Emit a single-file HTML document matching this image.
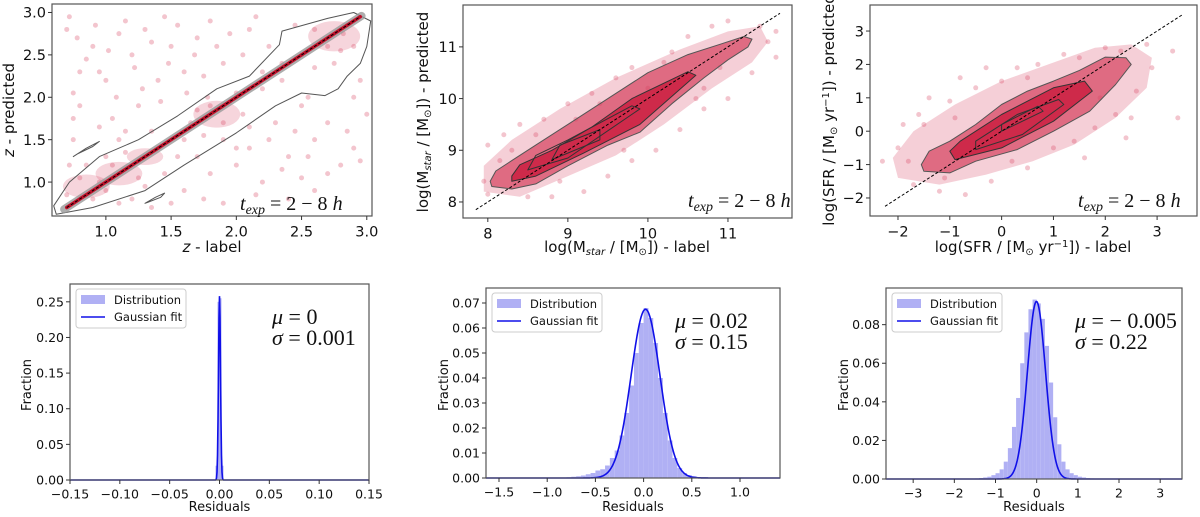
<!DOCTYPE html>
<html><head><meta charset="utf-8">
<style>
html,body{margin:0;padding:0;background:#fff;}
svg{display:block;font-family:"DejaVu Sans","Liberation Sans",sans-serif;}
</style></head>
<body>
<svg id="fig" width="1200" height="517" viewBox="0 0 1200 517" xmlns="http://www.w3.org/2000/svg"></svg>
<script>
// ---------- data ----------
const zTicks = [1.0, 1.5, 2.0, 2.5, 3.0];
const zOuter = [[0.62,0.62],[0.9,0.7],[1.3,0.9],[1.6,1.2],[2.0,1.58],[2.3,1.9],[2.5,2.05],[2.68,2.02],[2.78,2.1],[2.85,2.25],[2.95,2.4],[3.0,2.6],[3.03,2.9],[2.9,3.0],[2.7,2.93],[2.35,2.78],[2.33,2.62],[2.1,2.25],[1.85,2.1],[1.55,1.78],[1.25,1.5],[0.95,1.3],[0.72,1.0],[0.6,0.72]];
const zIsland1 = [[0.75,1.3],[0.85,1.4],[0.95,1.48],[0.9,1.42],[0.78,1.33]];
const zIsland2 = [[1.3,0.75],[1.38,0.82],[1.45,0.87],[1.42,0.82],[1.32,0.76]];
const zBlobs = [[0.85,0.95,0.18,0.14],[1.1,1.1,0.18,0.14],[1.85,1.8,0.18,0.16],[2.75,2.72,0.2,0.18],[1.3,1.3,0.14,0.1]];
const zPts = [[0.7,2.8],[0.75,2.05],[0.8,1.9],[0.9,2.6],[0.95,2.3],[1.05,1.75],[1.1,2.75],[1.2,2.5],[1.25,1.9],[1.3,2.8],[1.4,2.2],[1.5,2.6],[1.6,2.3],[1.7,2.7],[1.8,2.9],[1.9,2.4],[2.1,2.8],[2.2,2.3],[0.75,1.5],[0.85,1.2],[1.0,1.3],[1.1,0.75],[1.2,0.8],[1.5,0.75],[1.6,0.9],[1.7,1.3],[1.8,1.1],[1.9,1.5],[2.0,1.2],[2.1,1.4],[2.2,1.0],[2.3,1.7],[2.4,1.3],[2.5,1.9],[2.6,1.5],[2.7,1.7],[2.8,1.2],[2.85,1.6],[2.9,2.0],[2.4,0.8],[2.6,0.9],[2.95,1.25],[1.9,0.75],[0.7,0.85],[1.35,1.6],[0.95,1.0],[2.0,2.05],[2.5,2.5],[2.2,2.1],[1.6,1.5],[2.9,2.6],[2.65,2.65],[0.8,2.3],[1.45,2.95],[2.35,2.2],[1.15,1.6],[2.05,1.8],[2.55,2.0],
[0.72,2.95],[0.78,2.7],[0.85,2.45],[0.92,2.85],[1.0,2.2],[1.02,2.55],[1.08,2.0],[1.15,2.9],[1.22,2.35],[1.28,2.1],[1.35,2.65],[1.42,1.95],[1.48,2.4],[1.55,2.85],[1.62,2.05],[1.68,2.5],[1.75,2.25],[1.85,2.6],[1.95,2.75],[2.05,2.5],[2.15,2.95],[2.25,2.6],[2.45,2.85],[0.72,1.2],[0.8,1.05],[0.9,0.8],[1.0,0.9],[1.05,1.2],[1.15,1.35],[1.25,1.05],[1.3,0.95],[1.45,1.1],[1.55,1.3],[1.65,1.7],[1.75,1.55],[1.8,1.9],[1.95,1.95],[2.0,1.4],[2.1,1.65],[2.25,1.5],[2.35,1.15],[2.45,1.6],[2.55,1.3],[2.6,2.35],[2.7,1.1],[2.75,2.4],[2.8,2.55],[2.85,2.85],[2.9,1.4],[2.95,2.2],[3.0,1.8],[2.5,1.05],[2.15,0.85],[1.75,0.8],[1.35,0.7],[0.95,1.65],[0.75,1.75],[1.1,1.5],[2.35,2.4],[2.6,2.8],[2.7,2.6],[2.82,2.75],[2.9,2.9],[1.9,1.7],[1.78,2.0],[1.7,1.85]];
const mTicks = [8, 9, 10, 11];
const mWide = [[7.95,8.2],[8.4,8.1],[9.0,8.5],[9.6,8.9],[10.2,9.5],[10.8,10.2],[11.3,10.7],[11.5,11.1],[11.4,11.4],[11.0,11.3],[10.4,10.95],[9.6,10.4],[8.9,9.8],[8.3,9.2],[7.95,8.7]];
const mOuter = [[8.05,8.3],[8.3,8.25],[8.6,8.35],[9.0,8.7],[9.5,9.1],[9.9,9.35],[10.3,9.9],[10.7,10.4],[11.0,10.75],[11.25,11.0],[11.3,11.15],[11.2,11.2],[10.9,11.05],[10.5,10.85],[10.0,10.5],[9.5,10.0],[9.0,9.5],[8.6,9.1],[8.3,8.8],[8.1,8.6],[8.03,8.4]];
const mMid = [[8.3,8.4],[8.6,8.5],[9.2,8.95],[9.9,9.5],[10.6,10.45],[10.5,10.52],[9.8,10.0],[9.3,9.45],[8.8,9.0],[8.4,8.72],[8.3,8.5]];
const mInner = [[8.5,8.62],[9.0,8.85],[9.9,9.8],[9.8,9.86],[9.0,9.2],[8.6,8.9]];
const mCore = [[8.8,8.82],[9.4,9.2],[9.4,9.4],[8.9,9.1]];
const mPts = [[8.0,8.15],[7.95,8.4],[8.0,9.1],[8.2,9.3],[8.4,9.5],[8.7,9.6],[9.0,9.9],[9.3,10.1],[9.6,10.4],[9.8,10.6],[10.3,10.9],[10.5,11.2],[10.8,11.4],[11.0,11.5],[11.4,11.4],[11.6,11.3],[11.6,10.8],[11.3,10.5],[11.0,10.0],[10.7,9.8],[10.4,9.4],[10.1,9.0],[9.8,8.8],[9.5,8.5],[9.2,8.2],[8.8,8.1],[8.5,8.1],[9.8,9.5],[10.0,10.2],[10.9,10.6],[8.3,9.0],[9.1,9.6],[10.7,10.2],[11.5,11.1],[8.15,8.8],[8.6,9.3],[9.4,9.9],[10.2,10.7],[10.6,10.0],[9.7,9.0],[8.9,8.4]];
const sTicks = [-2, -1, 0, 1, 2, 3];
const sWide = [[-2.0,-1.4],[-1.2,-1.6],[-0.3,-1.3],[0.6,-0.9],[1.4,-0.4],[2.2,0.4],[2.8,1.3],[2.9,2.2],[2.5,2.6],[1.8,2.5],[0.9,2.0],[0.0,1.5],[-0.9,0.8],[-1.7,0.0],[-2.1,-0.8]];
const sOuter = [[-1.5,-1.2],[-1.0,-1.25],[-0.5,-0.9],[0.3,-0.55],[1.0,0.0],[1.7,0.6],[2.2,1.4],[2.5,2.0],[2.4,2.2],[2.0,2.22],[1.5,1.82],[1.0,1.5],[0.5,1.2],[0.0,0.8],[-0.5,0.2],[-1.0,-0.3],[-1.4,-0.6],[-1.55,-1.0]];
const sMid = [[-0.9,-0.85],[0.0,-0.5],[1.0,0.3],[1.75,1.2],[1.6,1.5],[1.0,1.3],[0.0,0.5],[-0.8,-0.3],[-1.0,-0.6]];
const sInner = [[-0.5,-0.55],[0.4,-0.1],[1.2,0.8],[1.1,0.95],[0.3,0.5],[-0.5,-0.3]];
const sCore = [[0.0,0.0],[0.8,0.6],[0.7,0.75],[0.0,0.2]];
const sPts = [[-2.3,-0.9],[-2.0,-0.5],[-1.9,0.2],[-1.7,-1.6],[-1.6,0.5],[-1.4,1.0],[-1.2,-1.8],[-1.0,0.9],[-0.8,1.6],[-0.7,-1.9],[-0.5,1.3],[-0.3,1.9],[-0.2,-1.5],[0.0,1.5],[0.3,1.9],[0.5,-1.1],[0.7,2.0],[1.0,-0.5],[1.2,2.3],[1.4,-0.3],[1.6,-0.8],[1.8,0.1],[2.0,2.5],[2.2,0.5],[2.4,-0.2],[2.5,0.4],[2.6,1.2],[2.9,1.9],[3.3,2.4],[3.4,0.4],[2.8,2.6],[-1.8,-0.9],[-1.1,-1.4],[0.2,-0.9],[1.9,1.0],[-1.5,0.2],[-0.9,0.4],[0.5,1.6],[1.5,2.2],[2.3,2.4]];
const h1Centers = [-0.003, -0.001, 0.001, 0.003];
const h1Values = [0.02, 0.25, 0.255, 0.02];
const h1Width = 0.002;
const h1Fit = {mu: 0, sigma: 0.001, peak: 0.258};
const h1XTicks = [-0.15, -0.10, -0.05, 0.00, 0.05, 0.10, 0.15];
const h1YTicks = [0.00, 0.05, 0.10, 0.15, 0.20, 0.25];
const h2Centers = [-0.775,-0.725,-0.675,-0.625,-0.575,-0.525,-0.475,-0.425,-0.375,-0.325,-0.275,-0.225,-0.175,-0.125,-0.075,-0.025,0.025,0.075,0.125,0.175,0.225,0.275,0.325,0.375,0.425,0.475,0.525,0.575,0.625,0.675];
const h2Values = [0.0003,0.0005,0.0007,0.001,0.0015,0.002,0.003,0.0035,0.005,0.008,0.011,0.017,0.026,0.037,0.050,0.062,0.068,0.064,0.054,0.040,0.026,0.015,0.008,0.004,0.002,0.0012,0.0007,0.0004,0.0003,0.0002];
const h2Width = 0.05;
const h2Fit = {mu: 0.02, sigma: 0.15, peak: 0.0675};
const h2XTicks = [-1.5, -1.0, -0.5, 0.0, 0.5, 1.0];
const h2YTicks = [0.00,0.01,0.02,0.03,0.04,0.05,0.06,0.07];
const h3Centers = [-1.45,-1.35,-1.25,-1.15,-1.05,-0.95,-0.85,-0.75,-0.65,-0.55,-0.45,-0.35,-0.25,-0.15,-0.05,0.05,0.15,0.25,0.35,0.45,0.55,0.65,0.75,0.85,0.95,1.05,1.15,1.25,1.35,1.45];
const h3Values = [0.0003,0.0005,0.0008,0.0012,0.002,0.003,0.005,0.009,0.016,0.027,0.042,0.060,0.076,0.088,0.093,0.091,0.083,0.069,0.050,0.032,0.018,0.009,0.005,0.003,0.002,0.0012,0.0008,0.0005,0.0003,0.0002];
const h3Width = 0.1;
const h3Fit = {mu: -0.005, sigma: 0.22, peak: 0.092};
const h3XTicks = [-3, -2, -1, 0, 1, 2, 3];
const h3YTicks = [0.00, 0.02, 0.04, 0.06, 0.08];

// ---------- helpers ----------
const NS = 'http://www.w3.org/2000/svg';
const fig = document.getElementById('fig');
function mk(tag, attrs, parent) {
  const e = document.createElementNS(NS, tag);
  for (const k in attrs) e.setAttribute(k, attrs[k]);
  (parent || fig).appendChild(e);
  return e;
}
function axes(box, xd, yd) {
  const sx = v => box.x0 + (v - xd[0]) / (xd[1] - xd[0]) * (box.x1 - box.x0);
  const sy = v => box.y1 - (v - yd[0]) / (yd[1] - yd[0]) * (box.y1 - box.y0);
  return {sx, sy};
}
function fmt(v, d) { return (v < 0 ? '\u2212' : '') + Math.abs(v).toFixed(d); }
function drawFrame(g, box, A, xt, yt, xd, yd, fs) {
  const r = mk('rect', {x: box.x0, y: box.y0, width: box.x1 - box.x0, height: box.y1 - box.y0, fill: 'none', stroke: '#555', 'stroke-width': 1.2}, g);
  
  
  xt.forEach(v => {
    const x = A.sx(v);
    mk('line', {x1: x, x2: x, y1: box.y1, y2: box.y1 + 4, stroke: '#333'}, g);
    const t = mk('text', {x: x, y: box.y1 + 6 + fs, 'font-size': fs, 'text-anchor': 'middle', fill: '#111'}, g);
    t.textContent = fmt(v, xd);
    
    
  });
  yt.forEach(v => {
    const y = A.sy(v);
    mk('line', {x1: box.x0 - 4, x2: box.x0, y1: y, y2: y, stroke: '#333'}, g);
    const t = mk('text', {x: box.x0 - 6, y: y + fs * 0.36, 'font-size': fs, 'text-anchor': 'end', fill: '#111'}, g);
    t.textContent = fmt(v, yd);
    
    
  });
}
function poly(g, pts, A, attrs, name) {
  const p = mk('polygon', Object.assign({points: pts.map(q => A.sx(q[0]).toFixed(1) + ',' + A.sy(q[1]).toFixed(1)).join(' '), 'stroke-linejoin': 'round'}, attrs), g);
  
  
  return p;
}
function label(g, x, y, html, fs, rot, name) {
  const t = mk('text', {x: x, y: y, 'font-size': fs, 'text-anchor': 'middle', fill: '#111'}, g);
  if (rot) t.setAttribute('transform', 'rotate(-90 ' + x + ' ' + y + ')');
  t.innerHTML = html;
  
  
}
function texp(g, x, y) {
  const t = mk('text', {x: x, y: y, 'font-size': 20, 'font-family': '"Liberation Serif",serif', 'font-style': 'italic', fill: '#111'}, g);
  t.innerHTML = 't<tspan font-size="14" dy="4">exp</tspan><tspan dy="-4" font-style="normal"> = 2 \u2212 8 </tspan>h';
  
  
}
function points(g, pts, A, name) {
  pts.forEach(q => {
    const c = mk('circle', {cx: A.sx(q[0]), cy: A.sy(q[1]), r: 2.5, fill: '#d6405e', 'fill-opacity': 0.3}, g);
    
    
  });
}

// ---------- Panel 1 ----------
(function () {
  const g = mk('g', {});  
  const box = {x0: 52, x1: 372, y0: 4, y1: 216};
  const A = axes(box, [0.587, 3.04], [0.6, 3.1]);
  points(g, zPts, A, 'scatter-point');
  zBlobs.forEach(b => {
    const e = mk('ellipse', {cx: A.sx(b[0]), cy: A.sy(b[1]), rx: b[2] * 130, ry: b[3] * 84, fill: '#d6405e', 'fill-opacity': 0.22}, g);
    
    
  });
  poly(g, zOuter, A, {fill: 'none', stroke: '#555', 'stroke-width': 1}, 'outer-contour');
  poly(g, zIsland1, A, {fill: 'none', stroke: '#555', 'stroke-width': 1}, 'contour-island');
  poly(g, zIsland2, A, {fill: 'none', stroke: '#555', 'stroke-width': 1}, 'contour-island');
  const l1 = mk('line', {x1: A.sx(0.68), y1: A.sy(0.68), x2: A.sx(2.96), y2: A.sy(2.96), stroke: '#999', 'stroke-width': 8, 'stroke-linecap': 'round', 'stroke-opacity': 0.8}, g);
   
  const l2 = mk('line', {x1: A.sx(0.7), y1: A.sy(0.7), x2: A.sx(2.95), y2: A.sy(2.95), stroke: '#c0102a', 'stroke-width': 3.5, 'stroke-linecap': 'round'}, g);
   
  const l3 = mk('line', {x1: A.sx(0.7), y1: A.sy(0.7), x2: A.sx(2.95), y2: A.sy(2.95), stroke: '#000', 'stroke-width': 1, 'stroke-dasharray': '3,2'}, g);
   
  drawFrame(g, box, A, zTicks, zTicks, 1, 1, 14.5);
  texp(g, 240, 210);
  label(g, 212, 252, '<tspan font-style="italic">z</tspan> - label', 15, false, 'x-axis-title');
  label(g, 14, 110, '<tspan font-style="italic">z</tspan> - predicted', 15, true, 'y-axis-title');
})();

// ---------- scatter panels 2 & 3 ----------
function densPanel(g, A, wide, outer, mid, inner, core) {
  poly(g, wide, A, {fill: '#d6405e', 'fill-opacity': 0.25, stroke: 'none'}, 'density-tail');
  poly(g, outer, A, {fill: '#d6405e', 'fill-opacity': 0.7, stroke: 'none'}, 'density-halo');
  poly(g, mid, A, {fill: '#cc2444', 'fill-opacity': 0.9, stroke: 'none'}, 'density-core');
  poly(g, outer, A, {fill: 'none', stroke: '#555', 'stroke-width': 1}, 'outer-contour');
  poly(g, mid, A, {fill: 'none', stroke: '#333', 'stroke-width': 1}, 'mid-contour');
  poly(g, inner, A, {fill: 'none', stroke: '#333', 'stroke-width': 1}, 'inner-contour');
  poly(g, core, A, {fill: 'none', stroke: '#333', 'stroke-width': 1}, 'core-contour');
}
(function () {
  const g = mk('g', {});  
  const box = {x0: 463, x1: 792, y0: 5, y1: 218};
  const A = axes(box, [7.69, 11.8], [7.69, 11.81]);
  points(g, mPts, A, 'scatter-point');
  densPanel(g, A, mWide, mOuter, mMid, mInner, mCore);
  const l = mk('line', {x1: A.sx(7.85), y1: A.sy(7.85), x2: A.sx(11.65), y2: A.sy(11.65), stroke: '#000', 'stroke-width': 1, 'stroke-dasharray': '3,2'}, g);
   
  drawFrame(g, box, A, mTicks, mTicks, 0, 0, 14.5);
  texp(g, 688, 207);
  label(g, 627, 252, 'log(M<tspan font-size="10" dy="3" font-style="italic">star</tspan><tspan dy="-3"> / [M</tspan><tspan font-size="10" dy="3">\u2299</tspan><tspan dy="-3">]) - label</tspan>', 15, false, 'x-axis-title');
  label(g, 428, 112, 'log(M<tspan font-size="10" dy="3" font-style="italic">star</tspan><tspan dy="-3"> / [M</tspan><tspan font-size="10" dy="3">\u2299</tspan><tspan dy="-3">]) - predicted</tspan>', 15, true, 'y-axis-title');
})();
(function () {
  const g = mk('g', {});  
  const box = {x0: 870, x1: 1197, y0: 5, y1: 216};
  const A = axes(box, [-2.54, 3.77], [-2.54, 3.78]);
  points(g, sPts, A, 'scatter-point');
  densPanel(g, A, sWide, sOuter, sMid, sInner, sCore);
  const l = mk('line', {x1: A.sx(-2.25), y1: A.sy(-2.25), x2: A.sx(3.5), y2: A.sy(3.5), stroke: '#000', 'stroke-width': 1, 'stroke-dasharray': '3,2'}, g);
   
  drawFrame(g, box, A, sTicks, sTicks, 0, 0, 14.5);
  texp(g, 1078, 207);
  label(g, 1033, 252, 'log(SFR / [M<tspan font-size="10" dy="3">\u2299</tspan><tspan dy="-3"> yr</tspan><tspan font-size="10" dy="-5">\u22121</tspan><tspan dy="5">]) - label</tspan>', 15, false, 'x-axis-title');
  label(g, 834, 110, 'log(SFR / [M<tspan font-size="10" dy="3">\u2299</tspan><tspan dy="-3"> yr</tspan><tspan font-size="10" dy="-5">\u22121</tspan><tspan dy="5">]) - predicted</tspan>', 15, true, 'y-axis-title');
})();

// ---------- Histograms ----------
function hist(name, box, xd, yd, centers, values, width, fit, xt, yt, xdec, ydec, legX, muX, muTxt, sigTxt, fracX) {
  const g = mk('g', {});  
  const A = axes(box, xd, yd);
  centers.forEach((c, i) => {
    const x0 = A.sx(c - width / 2), x1 = A.sx(c + width / 2);
    const r = mk('rect', {x: x0, y: A.sy(values[i]), width: Math.max(x1 - x0, 1), height: A.sy(0) - A.sy(values[i]), fill: '#b0b0f4'}, g);
    
    
  });
  const N = 600; let d = '';
  for (let i = 0; i <= N; i++) {
    const v = xd[0] + (xd[1] - xd[0]) * i / N;
    const y = fit.peak * Math.exp(-0.5 * Math.pow((v - fit.mu) / fit.sigma, 2));
    d += (i ? 'L' : 'M') + A.sx(v).toFixed(2) + ',' + A.sy(y).toFixed(2);
  }
  const p = mk('path', {d: d, fill: 'none', stroke: '#1010e8', 'stroke-width': 1.6}, g);
  
  
  drawFrame(g, box, A, xt, yt, xdec, ydec, 12.5);
  const lg = mk('g', {}, g);  
  mk('rect', {x: legX, y: box.y0 + 5, width: 110, height: 39, rx: 3, fill: '#fff', stroke: '#ccc'}, lg);
  mk('rect', {x: legX + 5, y: box.y0 + 11, width: 24, height: 9, fill: '#b0b0f4'}, lg);
  const t1 = mk('text', {x: legX + 38, y: box.y0 + 20, 'font-size': 11.5, fill: '#111'}, lg); t1.textContent = 'Distribution';
   
  mk('line', {x1: legX + 5, x2: legX + 29, y1: box.y0 + 33, y2: box.y0 + 33, stroke: '#1010e8', 'stroke-width': 1.6}, lg);
  const t2 = mk('text', {x: legX + 38, y: box.y0 + 37, 'font-size': 11.5, fill: '#111'}, lg); t2.textContent = 'Gaussian fit';
   
  const m = mk('text', {x: muX, y: box.y0 + 40, 'font-size': 22, 'font-family': '"Liberation Serif",serif', fill: '#111'}, g);
  m.innerHTML = '<tspan font-style="italic">\u03bc</tspan> = ' + muTxt;
   
  const s = mk('text', {x: muX, y: box.y0 + 61, 'font-size': 22, 'font-family': '"Liberation Serif",serif', fill: '#111'}, g);
  s.innerHTML = '<tspan font-style="italic">\u03c3</tspan> = ' + sigTxt;
   
  label(g, (box.x0 + box.x1) / 2, 511, 'Residuals', 13, false, 'x-axis-title');
  label(g, fracX, 385, 'Fraction', 13, true, 'y-axis-title');
}
hist('z-residual-histogram', {x0: 70, x1: 369, y0: 284, y1: 480}, [-0.15, 0.15], [0, 0.275], h1Centers, h1Values, h1Width, h1Fit, h1XTicks, h1YTicks, 2, 2, 76, 272, '0', '0.001', 31);
hist('mass-residual-histogram', {x0: 486, x1: 780, y0: 288, y1: 478}, [-1.635, 1.415], [0, 0.076], h2Centers, h2Values, h2Width, h2Fit, h2XTicks, h2YTicks, 1, 2, 492, 675, '0.02', '0.15', 448);
hist('sfr-residual-histogram', {x0: 886, x1: 1182, y0: 288, y1: 479}, [-3.66, 3.53], [0, 0.099], h3Centers, h3Values, h3Width, h3Fit, h3XTicks, h3YTicks, 0, 2, 892, 1075, '\u2212 0.005', '0.22', 848);
</script>
</body></html>
